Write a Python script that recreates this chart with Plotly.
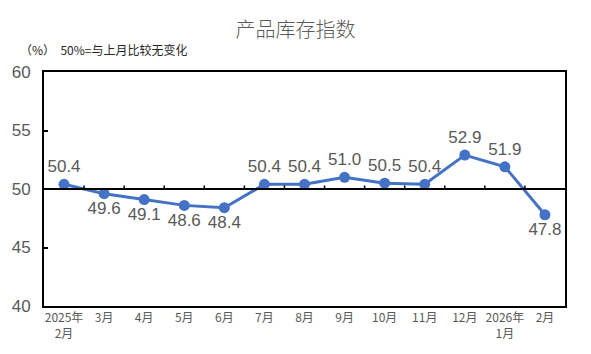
import plotly.graph_objects as go

categories = ["2025年<br>2月", "3月", "4月", "5月", "6月", "7月", "8月", "9月",
              "10月", "11月", "12月", "2026年<br>1月", "2月"]
values = [50.4, 49.6, 49.1, 48.6, 48.4, 50.4, 50.4, 51.0, 50.5, 50.4, 52.9, 51.9, 47.8]
y_ticks = [40, 45, 50, 55, 60]
baseline = 50

x = list(range(len(categories)))
positions = ["top center" if v >= baseline else "bottom center" for v in values]

fig = go.Figure()
fig.add_trace(go.Scatter(
    x=x, y=values, mode="lines+markers+text",
    line=dict(color="#4472C4", width=3),
    marker=dict(color="#4472C4", size=11),
    text=[f"{v:.1f}" for v in values],
    textposition=positions,
    textfont=dict(size=17, color="#595959", family="Liberation Sans, Arial"),
    cliponaxis=False,
    hoverinfo="skip",
))

shapes = [dict(type="line", xref="paper", yref="y", x0=0, x1=1, y0=baseline, y1=baseline,
               line=dict(color="black", width=2), layer="above")]
for i in range(len(categories) - 1):
    shapes.append(dict(type="line", xref="x", yref="y", x0=i + 0.5, x1=i + 0.5,
                       y0=baseline, y1=baseline + 0.3, line=dict(color="black", width=1.5)))

fig.update_layout(
    width=591, height=354,
    margin=dict(l=44, r=26, t=72, b=48),
    paper_bgcolor="white", plot_bgcolor="white",
    showlegend=False,
    font=dict(family="Noto Sans CJK SC", color="#595959"),
    title=dict(text="产品库存指数", x=0.5, xanchor="center", y=1 - 30 / 354, yanchor="middle",
               font=dict(size=20, color="#595959", family="Noto Sans CJK SC", weight=300)),
    xaxis=dict(range=[-0.5, len(categories) - 0.5], tickvals=x, ticktext=categories,
               showgrid=False, zeroline=False, showline=True, mirror=True,
               linecolor="black", linewidth=2, ticks="",
               tickfont=dict(size=12, color="#595959", family="Noto Sans CJK SC")),
    yaxis=dict(range=[40, 60], tickvals=y_ticks, showgrid=False, zeroline=False,
               showline=True, mirror=True, linecolor="black", linewidth=2,
               ticks="inside", ticklen=4, tickwidth=1.5, tickcolor="black",
               ticklabelstandoff=8,
               tickfont=dict(size=17, color="#595959", family="Liberation Sans, Arial")),
    shapes=shapes,
    annotations=[dict(text="（%）  50%=与上月比较无变化", xref="paper", yref="paper",
                      x=-44 / 521 + 18 / 521, y=1 + 22 / 234, xanchor="left", yanchor="middle",
                      showarrow=False,
                      font=dict(size=12, color="#262626", family="Noto Sans CJK SC"))],
)

fig.write_html("out.html")
